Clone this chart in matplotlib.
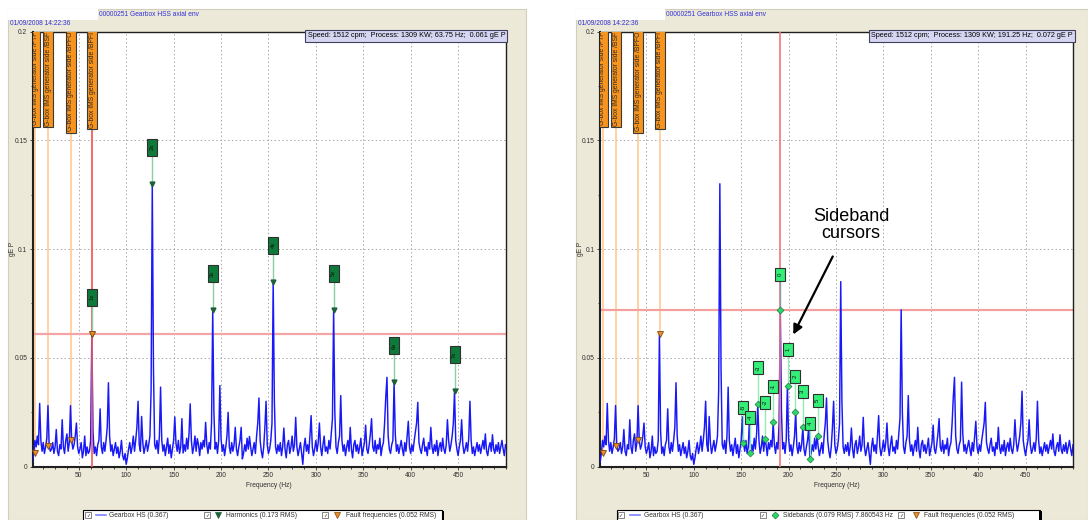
import matplotlib.pyplot as plt
import matplotlib.transforms as mtransforms
from matplotlib.patches import Rectangle
from matplotlib.ticker import MultipleLocator
import numpy as np

plt.rcParams['font.family'] = ['Liberation Sans', 'DejaVu Sans']

W, H = 1088, 520

# Gearbox HS envelope spectrum (gE P), one line every 1.25 Hz from 1.25 to 500 Hz
df = 1.25
amp = np.array([
    0.002, 0.006, 0.012, 0.009, 0.014, 0.010, 0.029, 0.012,
    0.007, 0.011, 0.006, 0.009, 0.013, 0.028, 0.010, 0.007,
    0.008, 0.011, 0.006, 0.009, 0.017, 0.007, 0.005, 0.010,
    0.008, 0.0215, 0.009, 0.006, 0.012, 0.015, 0.007, 0.011,
    0.028, 0.012, 0.008, 0.010, 0.014, 0.020, 0.009, 0.006,
    0.008, 0.011, 0.004, 0.007, 0.014, 0.005, 0.009, 0.006,
    0.007, 0.012, 0.061, 0.016, 0.006, 0.009, 0.005, 0.010,
    0.012, 0.0265, 0.009, 0.006, 0.011, 0.007, 0.012, 0.018,
    0.0385, 0.014, 0.007, 0.010, 0.005, 0.008, 0.011, 0.006,
    0.009, 0.004, 0.007, 0.012, 0.005, 0.003, 0.006, 0.001,
    0.004, 0.008, 0.011, 0.006, 0.009, 0.014, 0.007, 0.012,
    0.018, 0.030, 0.010, 0.007, 0.023, 0.011, 0.006, 0.009,
    0.012, 0.007, 0.010, 0.014, 0.035, 0.130, 0.045, 0.010,
    0.008, 0.012, 0.006, 0.014, 0.0365, 0.012, 0.007, 0.010,
    0.005, 0.009, 0.013, 0.006, 0.010, 0.004, 0.008, 0.012,
    0.0228, 0.0106, 0.007, 0.012, 0.006, 0.009, 0.022, 0.0062,
    0.010, 0.007, 0.013, 0.008, 0.015, 0.0288, 0.012, 0.006,
    0.009, 0.014, 0.007, 0.0128, 0.010, 0.005, 0.011, 0.008,
    0.012, 0.009, 0.0203, 0.010, 0.006, 0.011, 0.008, 0.020,
    0.072, 0.025, 0.008, 0.011, 0.006, 0.012, 0.0372, 0.013,
    0.007, 0.010, 0.005, 0.009, 0.014, 0.0249, 0.009, 0.006,
    0.011, 0.007, 0.010, 0.018, 0.008, 0.005, 0.009, 0.012,
    0.018, 0.0035, 0.006, 0.010, 0.007, 0.013, 0.008, 0.0138,
    0.009, 0.005, 0.008, 0.011, 0.006, 0.014, 0.020, 0.0315,
    0.012, 0.007, 0.004, 0.009, 0.018, 0.030, 0.010, 0.006,
    0.008, 0.012, 0.020, 0.085, 0.030, 0.009, 0.006, 0.010,
    0.007, 0.011, 0.005, 0.009, 0.0177, 0.008, 0.004, 0.010,
    0.012, 0.006, 0.009, 0.014, 0.007, 0.010, 0.0226, 0.009,
    0.005, 0.008, 0.011, 0.006, 0.001, 0.009, 0.013, 0.007,
    0.010, 0.006, 0.014, 0.0234, 0.009, 0.005, 0.008, 0.012,
    0.007, 0.011, 0.020, 0.009, 0.005, 0.010, 0.014, 0.007,
    0.009, 0.006, 0.012, 0.008, 0.015, 0.022, 0.072, 0.025,
    0.009, 0.006, 0.011, 0.014, 0.0326, 0.012, 0.007, 0.010,
    0.005, 0.009, 0.012, 0.007, 0.018, 0.008, 0.004, 0.010,
    0.012, 0.007, 0.010, 0.006, 0.009, 0.013, 0.005, 0.008,
    0.011, 0.019, 0.008, 0.006, 0.010, 0.015, 0.022, 0.009,
    0.007, 0.012, 0.006, 0.010, 0.008, 0.013, 0.005, 0.009,
    0.011, 0.020, 0.032, 0.041, 0.014, 0.008, 0.006, 0.010,
    0.012, 0.0388, 0.015, 0.007, 0.010, 0.006, 0.009, 0.012,
    0.008, 0.005, 0.011, 0.007, 0.014, 0.0208, 0.009, 0.006,
    0.010, 0.007, 0.012, 0.016, 0.020, 0.0295, 0.011, 0.008,
    0.006, 0.010, 0.013, 0.007, 0.009, 0.005, 0.011, 0.008,
    0.018, 0.009, 0.006, 0.010, 0.007, 0.012, 0.005, 0.009,
    0.011, 0.007, 0.013, 0.008, 0.006, 0.010, 0.0215, 0.012,
    0.007, 0.010, 0.014, 0.020, 0.0346, 0.012, 0.008, 0.005,
    0.009, 0.012, 0.0215, 0.010, 0.006, 0.008, 0.011, 0.007,
    0.013, 0.030, 0.012, 0.006, 0.009, 0.005, 0.008, 0.011,
    0.007, 0.010, 0.006, 0.009, 0.012, 0.008, 0.015, 0.007,
    0.005, 0.009, 0.011, 0.007, 0.0146, 0.008, 0.006, 0.010,
    0.007, 0.011, 0.006, 0.009, 0.012, 0.008, 0.005, 0.010,
])
freq = np.arange(1, len(amp) + 1) * df

harm_freq = [63.75, 127.5, 191.25, 255.0, 318.75, 382.5, 446.25]
harm_labels = ['1x', '2x', '3x', '4x', '5x', '6x', '7x']

sb_center = 191.25
sb_spacing = 7.860543
sb_orders = [-5, -4, -3, -2, -1, 0, 1, 2, 3, 4, 5]

fault_freq = [4.0, 18.0, 41.6, 64.0]
fault_amp = [0.0062, 0.0095, 0.012, 0.061]
fault_names = ['G-box IMS generator side /FTF', 'G-box IMS generator side /BSF',
               'G-box IMS generator side /BPFO', 'G-box IMS generator side /BPFI']

legend_left = ['Gearbox HS (0.367)', 'Harmonics (0.173 RMS)', 'Fault frequencies (0.052 RMS)']
legend_right = ['Gearbox HS (0.367)', 'Sidebands (0.079 RMS) 7.860543 Hz',
                'Fault frequencies (0.052 RMS)']

speed_cpm = 1512
process_kw = 1309
point_name = '00000251 Gearbox HSS axial env'
stamp = '01/09/2008 14:22:36'

BEIGE = '#ECE9D8'
BLUE_TXT = '#3030D8'


def at(f):
    # nearest spectral line
    return amp[int(round(f / df)) - 1]


def tag(ax, x, y, text, w, h, face, fs=4.3):
    # box of fixed pixel size centred on a data point
    tr = ax.figure.dpi_scale_trans + mtransforms.ScaledTranslation(x, y, ax.transData)
    ax.add_patch(Rectangle((-w / 200, -h / 200), w / 100, h / 100, transform=tr,
                           facecolor=face, edgecolor='#303030', lw=0.8, zorder=8))
    ax.text(x, y, text, rotation=90, ha='center', va='center', fontsize=fs,
            color='#101010', zorder=9)


fig = plt.figure(figsize=(W / 100, H / 100), dpi=100)
fig.patch.set_facecolor('white')

bg = fig.add_axes([0, 0, 1, 1], zorder=0)
bg.set_xlim(0, W)
bg.set_ylim(H, 0)
bg.axis('off')

panels = [
    dict(x0=8, x1=526, left=32.8, right=505.5, title_x=99),
    dict(x0=576, x1=1088, left=600.4, right=1073.0, title_x=666),
]
top_px, bot_px = 31.5, 466.5

axes = []
for p in panels:
    bg.add_patch(Rectangle((p['x0'], 9), p['x1'] - p['x0'], H - 9,
                           facecolor=BEIGE, edgecolor='#D2CEBC', lw=0.8))
    bg.add_patch(Rectangle((p['x0'], 9), p['title_x'] - p['x0'] - 1, 11,
                           facecolor='white', edgecolor='none'))
    bg.text(p['title_x'], 14.5, point_name, fontsize=4.8, color=BLUE_TXT, va='center')
    bg.text(p['x0'] + 2, 23.5, stamp, fontsize=4.8, color=BLUE_TXT, va='center')

    ax = fig.add_axes([p['left'] / W, (H - bot_px) / H,
                       (p['right'] - p['left']) / W, (bot_px - top_px) / H], zorder=2)
    ax.plot(freq, amp, color='#1818F8', lw=1.05, zorder=3)
    ax.set_xlim(1.5, 500)
    ax.set_ylim(0, 0.2)
    ax.set_xticks([50, 100, 150, 200, 250, 300, 350, 400, 450])
    ax.set_yticks([0, 0.05, 0.1, 0.15, 0.2])
    ax.set_yticklabels(['0', '0.05', '0.1', '0.15', '0.2'])
    ax.xaxis.set_minor_locator(MultipleLocator(12.5))
    ax.yaxis.set_minor_locator(MultipleLocator(0.025))
    ax.tick_params(labelsize=4.8, colors='#303030', length=2.5, width=0.6, pad=1.5)
    ax.tick_params(which='minor', length=1.5, width=0.5)
    ax.grid(True, which='major', color='#A8A8A8', lw=0.7, ls=(0, (1.5, 2.5)), zorder=1)
    for s in ax.spines.values():
        s.set_color('#202020')
        s.set_linewidth(1.0)
    ax.spines['left'].set_linewidth(1.5)
    ax.spines['bottom'].set_linewidth(1.5)
    ax.set_xlabel('Frequency (Hz)', fontsize=4.8, color='#303030', labelpad=2)
    ax.set_ylabel('gE P', fontsize=4.8, color='#303030')
    ax.yaxis.set_label_coords(-0.035, 0.5)

    # bearing fault frequency cursors
    for f, a, name in zip(fault_freq, fault_amp, fault_names):
        ax.vlines(f, a, 0.2, color='#FFC68C', lw=1.1, zorder=2)
        ax.text(f, 0.1999, name, rotation=90, ha='center', va='top', fontsize=4.9,
                color='#2a2a2a', zorder=8, clip_on=True,
                bbox=dict(boxstyle='square,pad=0.22', fc='#F7941E', ec='#3a3a3a', lw=0.8))
    ax.plot(fault_freq, fault_amp, 'v', ms=5, mfc='#F28C1E', mec='#7A4A10', mew=0.6,
            zorder=9, clip_on=False)
    axes.append(ax)

ax_h, ax_s = axes

# harmonic cursor set on 1x
cur = harm_freq[0]
ax_h.axvline(cur, color='#F05A5A', lw=1.2, zorder=4)
ax_h.axhline(at(cur), color='#F4A6A6', lw=1.6, zorder=2)
for f, lab in zip(harm_freq, harm_labels):
    a = at(f)
    ax_h.vlines(f, a, a + 0.0168, color='#8CCFA6', lw=1.0, zorder=5)
    ax_h.plot(f, a, 'v', ms=3.5, color='#1F5F3A', zorder=6)
    tag(ax_h, f, a + 0.0168, lab, 10, 17, '#0E7A3A')
ax_h.text(0.9995, 0.998,
          f'Speed: {speed_cpm} cpm;  Process: {process_kw} KW; {cur:.2f} Hz;  {at(cur):.3f} gE P',
          transform=ax_h.transAxes, ha='right', va='top', fontsize=5.2, zorder=10,
          bbox=dict(boxstyle='square,pad=0.3', fc='#D6D6F2', ec='#404060', lw=0.8))

# sideband cursor around 3x
ax_s.axvline(sb_center, color='#F07878', lw=1.2, zorder=4)
ax_s.axhline(at(sb_center), color='#F4A0A0', lw=1.6, zorder=2)
for k in sb_orders:
    f = sb_center + k * sb_spacing
    a = at(f)
    ax_s.vlines(f, a, a + 0.0165, color='#8A9AA8' if k == 0 else '#90EEB0', lw=1.0, zorder=5)
    ax_s.plot(f, a, 'D', ms=3.5, mfc='#2BD96A', mec='#1A7A40', mew=0.5, zorder=6)
    tag(ax_s, f, a + 0.0165, str(k), 10, 13, '#33EE77')
ax_s.text(0.9995, 0.998,
          f'Speed: {speed_cpm} cpm;  Process: {process_kw} KW; {sb_center:.2f} Hz;  {at(sb_center):.3f} gE P',
          transform=ax_s.transAxes, ha='right', va='top', fontsize=5.2, zorder=10,
          bbox=dict(boxstyle='square,pad=0.3', fc='#D6D6F2', ec='#404060', lw=0.8))


def legend(x0, x1, labels, boxes, marks, texts, symbols):
    y0 = 510
    bg.add_patch(Rectangle((x0, y0), x1 - x0, 14, facecolor='white', edgecolor='black', lw=0.8))
    bg.add_patch(Rectangle((x1 - 0.5, y0 + 1), 2.5, 13, facecolor='black'))
    for lab, bx, mx, tx, sym in zip(labels, boxes, marks, texts, symbols):
        bg.add_patch(Rectangle((bx - 3, y0 + 2), 6, 6, facecolor='white',
                               edgecolor='#707070', lw=0.6))
        bg.text(bx, y0 + 5.2, '\u2713', fontsize=3.5, ha='center', va='center', color='#202020')
        if sym == 'line':
            bg.plot([mx - 5, mx + 5], [y0 + 5, y0 + 5], color='#8080FF', lw=1.2)
        else:
            bg.plot(mx, y0 + 5, sym[0], ms=sym[1], mfc=sym[2], mec=sym[3], mew=0.5)
        bg.text(tx, y0 + 5.2, lab, fontsize=4.8, va='center', color='#303030')


legend(82.8, 442.4, legend_left, [88, 207, 325], [101, 218, 337], [108.6, 226.5, 346],
       ['line', ('v', 4, '#1F5F3A', '#1F5F3A'), ('v', 4.5, '#F28C1E', '#7A4A10')])
legend(616.7, 1039.5, legend_right, [620.5, 762.5, 901], [635, 775, 915.5], [644.4, 783, 923.5],
       ['line', ('D', 3.5, '#2BD96A', '#1A7A40'), ('v', 4.5, '#F28C1E', '#7A4A10')])

ov = fig.add_axes([0, 0, 1, 1], zorder=20)
ov.set_xlim(0, W)
ov.set_ylim(H, 0)
ov.axis('off')
ov.patch.set_alpha(0)
ov.text(851, 225, 'Sideband\ncursors', ha='center', va='center', fontsize=13,
        linespacing=1.05, color='black')
ov.annotate('', xy=(792, 337), xytext=(834, 254),
            arrowprops=dict(arrowstyle='-|>', color='black', lw=1.6, mutation_scale=14))

fig.savefig('out.png', dpi=100)
